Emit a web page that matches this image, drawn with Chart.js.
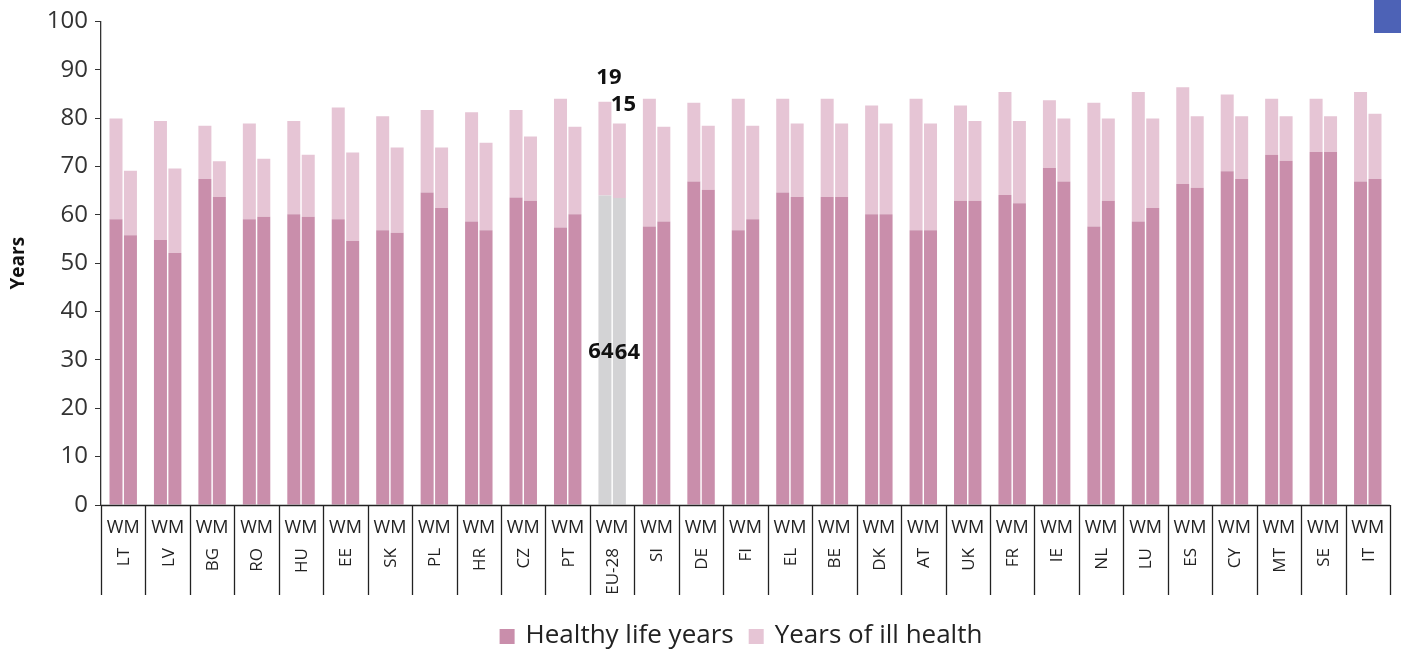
<!DOCTYPE html>
<html>
<head>
<meta charset="utf-8">
<script src="https://cdn.jsdelivr.net/npm/chart.js@4/dist/chart.umd.min.js"></script>
<style>
  html, body { margin: 0; padding: 0; background: #fff; }
  #wrap { position: relative; width: 1401px; height: 654px; }
  #icon { position: absolute; right: 0; top: 0; width: 27px; height: 33px; background: #4d62b6; }
</style>
</head>
<body>
<div id="wrap">
  <canvas id="hlyChart" width="1401" height="654"></canvas>
  <div id="icon"></div>
</div>
<script>
// Pays et valeurs (W = femmes, M = hommes)
const countries = ["LT", "LV", "BG", "RO", "HU", "EE", "SK", "PL", "HR", "CZ", "PT", "EU-28", "SI", "DE", "FI",
  "EL", "BE", "DK", "AT", "UK", "FR", "IE", "NL", "LU", "ES", "CY", "MT", "SE", "IT"];
const healthyWomen = [59.1, 54.8, 67.4, 59.1, 60.1, 59.1, 56.8, 64.6, 58.6, 63.6, 57.4, 64.0, 57.6, 66.9, 56.8,
  64.6, 63.7, 60.1, 56.8, 62.9, 64.1, 69.7, 57.6, 58.6, 66.4, 69.0, 72.4, 73.0, 66.9];
const illWomen = [20.8, 24.6, 11.0, 19.8, 19.3, 23.1, 23.6, 17.1, 22.6, 18.1, 26.6, 19.4, 26.4, 16.3, 27.2,
  19.4, 20.3, 22.5, 27.2, 19.7, 21.3, 14.0, 25.6, 26.8, 20.0, 15.9, 11.6, 11.0, 18.5];
const healthyMen = [55.8, 52.1, 63.7, 59.6, 59.6, 54.6, 56.3, 61.4, 56.8, 62.9, 60.1, 63.5, 58.6, 65.2, 59.1,
  63.7, 63.7, 60.1, 56.8, 62.9, 62.4, 66.9, 62.9, 61.4, 65.6, 67.4, 71.2, 73.0, 67.4];
const illMen = [13.3, 17.5, 7.4, 12.0, 12.8, 18.3, 17.6, 12.5, 18.1, 13.3, 18.1, 15.4, 19.6, 13.2, 19.3,
  15.2, 15.2, 18.8, 22.1, 16.5, 17.0, 13.0, 17.0, 18.5, 14.8, 13.0, 9.2, 7.4, 13.5];
const yTicks = [0, 10, 20, 30, 40, 50, 60, 70, 80, 90, 100];
const legendLabels = ["Healthy life years", "Years of ill health"];

const healthyColor = "#c98eab";
const illColor = "#e6c5d5";
const euColor = "#d3d3d5";
const euIndex = countries.indexOf("EU-28");

function colorsFor(base) {
  return countries.map((c, i) => (i === euIndex ? euColor : base));
}

// Plugin pour dessiner les étiquettes de l'axe X (WM + pays) et les séparateurs
const xLabelsPlugin = {
  id: "xLabels",
  afterDraw(chart) {
    const ctx = chart.ctx;
    const x = chart.scales.x;
    const area = chart.chartArea;
    const step = (area.right - area.left) / countries.length;
    ctx.save();
    ctx.strokeStyle = "#222";
    ctx.lineWidth = 1.3;
    ctx.beginPath();
    ctx.moveTo(area.left, area.bottom + 0.5);
    ctx.lineTo(area.right, area.bottom + 0.5);
    for (let i = 0; i <= countries.length; i++) {
      const px = Math.round(area.left + i * step) + 0.5;
      ctx.moveTo(px, area.bottom);
      ctx.lineTo(px, area.bottom + 90);
    }
    ctx.stroke();

    ctx.fillStyle = "#222";
    countries.forEach((c, i) => {
      const cx = x.getPixelForValue(i);
      ctx.font = "18px 'Open Sans'";
      ctx.textAlign = "center";
      ctx.textBaseline = "middle";
      ctx.fillText("WM", cx, area.bottom + 23);
      ctx.save();
      ctx.translate(cx + 1, area.bottom + 43);
      ctx.rotate(-Math.PI / 2);
      ctx.font = "17px 'Open Sans'";
      ctx.textAlign = "right";
      ctx.fillText(c, 0, 0);
      ctx.restore();
    });
    ctx.restore();
  }
};

// Etiquettes de valeurs pour EU-28
const euLabelsPlugin = {
  id: "euLabels",
  afterDatasetsDraw(chart) {
    const ctx = chart.ctx;
    ctx.save();
    ctx.font = "bold 22px 'Open Sans'";
    ctx.fillStyle = "#111";
    ctx.textAlign = "center";
    ctx.textBaseline = "middle";
    [0, 2].forEach((d, k) => {
      const bar = chart.getDatasetMeta(d).data[euIndex];
      const v = chart.data.datasets[d].data[euIndex];
      ctx.fillText(Math.round(v), bar.x + (k === 0 ? -4 : 8), (bar.y + bar.base) / 2 + 2);
    });
    [1, 3].forEach((d, k) => {
      const bar = chart.getDatasetMeta(d).data[euIndex];
      const v = chart.data.datasets[d].data[euIndex];
      ctx.fillText(Math.round(v), bar.x + 4, bar.y - (k === 0 ? 24 : 19));
    });
    ctx.restore();
  }
};

// Légende dessinée à la main, centrée sous le graphique
const legendPlugin = {
  id: "customLegend",
  afterDraw(chart) {
    const ctx = chart.ctx;
    const colors = [healthyColor, illColor];
    ctx.save();
    ctx.font = "26px 'Open Sans'";
    ctx.textBaseline = "middle";
    ctx.textAlign = "left";
    const box = 15, gap = 11, between = 15;
    const widths = legendLabels.map(t => ctx.measureText(t).width);
    const total = widths.reduce((a, w) => a + box + gap + w, 0) + between;
    let px = 741 - total / 2;
    const cy = 636;
    legendLabels.forEach((t, i) => {
      ctx.fillStyle = colors[i];
      ctx.fillRect(px, cy - 7, box, box);
      px += box + gap;
      ctx.fillStyle = "#222";
      ctx.fillText(t, px, cy);
      px += widths[i] + between;
    });
    ctx.restore();
  }
};

const ctx = document.getElementById("hlyChart").getContext("2d");
const hlyChart = new Chart(ctx, {
  type: "bar",
  data: {
    labels: countries,
    datasets: [
      { label: legendLabels[0], data: healthyWomen, stack: "W", backgroundColor: colorsFor(healthyColor) },
      { label: legendLabels[1], data: illWomen, stack: "W", backgroundColor: illColor },
      { label: legendLabels[0], data: healthyMen, stack: "M", backgroundColor: colorsFor(healthyColor) },
      { label: legendLabels[1], data: illMen, stack: "M", backgroundColor: illColor }
    ]
  },
  options: {
    responsive: false,
    animation: false,
    layout: { padding: { top: 18, right: 11, left: 0, bottom: 59 } },
    datasets: {
      bar: { categoryPercentage: 0.65, barPercentage: 0.9, borderWidth: 0 }
    },
    scales: {
      x: {
        stacked: true,
        grid: { display: false },
        border: { display: false },
        ticks: { display: false },
        afterFit(scale) { scale.height = 90; }
      },
      y: {
        stacked: true,
        min: 0,
        max: 100,
        afterBuildTicks(scale) { scale.ticks = yTicks.map(v => ({ value: v })); },
        afterFit(scale) { scale.width = 101; },
        ticks: { font: { family: "Open Sans", size: 24 }, color: "#333", padding: 7 },
        grid: { drawOnChartArea: false, drawTicks: true, tickLength: 6, color: "#333" },
        border: { display: true, color: "#333", width: 1.3 },
        title: {
          display: true,
          text: "Years",
          font: { family: "Open Sans", size: 19, weight: "bold" },
          color: "#111",
          padding: { top: 7, bottom: 0 }
        }
      }
    },
    plugins: {
      tooltip: { enabled: false },
      legend: { display: false }
    }
  },
  plugins: [xLabelsPlugin, euLabelsPlugin, legendPlugin]
});
</script>
</body>
</html>
